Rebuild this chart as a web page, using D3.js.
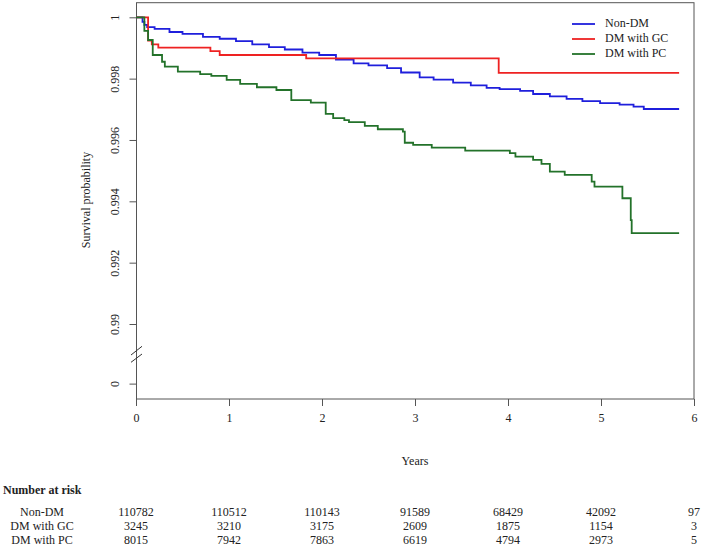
<!DOCTYPE html>
<html><head><meta charset="utf-8">
<script src="https://cdn.jsdelivr.net/npm/d3@7"></script>
<style>body{margin:0;background:#fff}svg{display:block}text{font-family:"Liberation Serif","Times New Roman",serif;fill:#222}</style>
</head><body>
<script>
const groups = ["Non-DM", "DM with GC", "DM with PC"];
const colors = ["#1f1fdc", "#ee2222", "#23722a"];
const nonDM = [[0,1],[0.07,0.99985],[0.09,0.99975],[0.12,0.99968],[0.2,0.99962],[0.36,0.99952],[0.5,0.99946],[0.72,0.99936],[0.9,0.9993],[1.075,0.99922],[1.25,0.99912],[1.43,0.99903],[1.6,0.99895],[1.79,0.99885],[1.97,0.99877],[2.15,0.99862],[2.34,0.9985],[2.5,0.99843],[2.7,0.99834],[2.85,0.9982],[3.05,0.99804],[3.2,0.99797],[3.41,0.99787],[3.6,0.99778],[3.77,0.9977],[3.91,0.99766],[4.13,0.9976],[4.27,0.9975],[4.45,0.99742],[4.63,0.99734],[4.8,0.99727],[4.99,0.9972],[5.2,0.99715],[5.35,0.99709],[5.46,0.99701],[5.84,0.99701]];
const dmGC = [[0,1],[0.13,0.99924],[0.17,0.99912],[0.24,0.99901],[0.8,0.9989],[0.9,0.99877],[1.83,0.99866],[3.9,0.99819],[5.84,0.99819]];
const dmPC = [[0,1],[0.09,0.99956],[0.13,0.99926],[0.18,0.99877],[0.28,0.99855],[0.31,0.99839],[0.45,0.99823],[0.69,0.99815],[0.81,0.99809],[0.975,0.99796],[1.12,0.99783],[1.3,0.99772],[1.51,0.99763],[1.67,0.9973],[1.88,0.99722],[2.04,0.99685],[2.12,0.99671],[2.24,0.99665],[2.29,0.99658],[2.46,0.99646],[2.6,0.99635],[2.87,0.99627],[2.89,0.99591],[2.98,0.99584],[3.18,0.99575],[3.54,0.99565],[4.02,0.99557],[4.08,0.99546],[4.27,0.99535],[4.36,0.99522],[4.45,0.99497],[4.61,0.99486],[4.9,0.99464],[4.93,0.99448],[5.23,0.9941],[5.32,0.99339],[5.33,0.99296],[5.84,0.99296]];
const series = [nonDM, dmGC, dmPC];
const xTicks = [0,1,2,3,4,5,6];
const yTicks = [1,0.998,0.996,0.994,0.992,0.99];
const yTickLabels = ["1","0.998","0.996","0.994","0.992","0.99"];
const zeroLabel = "0";
const zeroPos = 0.98804; // position of the broken-axis "0" tick on the scale
const atRisk = [
  [110782,110512,110143,91589,68429,42092,97],
  [3245,3210,3175,2609,1875,1154,3],
  [8015,7942,7863,6619,4794,2973,5]
];

const W=703,H=549;
const svg=d3.select("body").append("svg").attr("width",W).attr("height",H);
const x=d3.scaleLinear().domain([0,6]).range([136,694]);
const y=d3.scaleLinear().domain([0.99,1]).range([324,17.3]);
const boxTop=2.7,boxBottom=399;

// box
svg.append("rect").attr("x",136.5).attr("y",boxTop).attr("width",694-136.5).attr("height",boxBottom-boxTop)
  .attr("fill","none").attr("stroke","#555").attr("stroke-width",1);

// y axis
const yAxis=d3.axisLeft(y).tickValues(yTicks).tickSize(7).tickFormat((d,i)=>yTickLabels[i]);
const ya=svg.append("g").attr("transform","translate(136.5,0)").call(yAxis);
ya.select(".domain").remove();
ya.selectAll(".tick line").attr("stroke","#555");
ya.selectAll(".tick text").attr("transform","rotate(-90)").attr("x",0).attr("dy",null)
  .attr("y",-20).attr("text-anchor","middle").attr("font-size",12).attr("font-family","Liberation Serif").attr("fill","#444")
  .attr("dominant-baseline","middle");
// zero tick
const zg=svg.append("g").attr("transform",`translate(136.5,${y(zeroPos)})`);
zg.append("line").attr("x1",-7).attr("x2",0).attr("stroke","#555");
zg.append("text").attr("transform","rotate(-90)").attr("y",-20).attr("text-anchor","middle")
  .attr("dominant-baseline","middle").attr("font-size",12).attr("fill","#444").text(zeroLabel);
// break marks
[[362.3,354],[355,346.3]].forEach(([a,b])=>{
  svg.append("line").attr("x1",131).attr("y1",a).attr("x2",142).attr("y2",b).attr("stroke","#333").attr("stroke-width",1);
});

// x axis
const xAxis=d3.axisBottom(x).tickValues(xTicks).tickSize(7).tickFormat(d3.format("d"));
const xa=svg.append("g").attr("transform",`translate(0,${boxBottom})`).call(xAxis);
xa.select(".domain").remove();
xa.selectAll(".tick line").attr("stroke","#555");
xa.selectAll(".tick text").attr("y",19).attr("dy","0.35em").attr("font-size",12).attr("font-family","Liberation Serif").attr("fill","#333");

// titles
svg.append("text").attr("x",415).attr("y",462).attr("text-anchor","middle").attr("dominant-baseline","middle").attr("font-size",12).text("Years");
svg.append("text").attr("transform","translate(87,200) rotate(-90)").attr("text-anchor","middle").attr("dominant-baseline","middle").attr("font-size",12).text("Survival probability");

// curves
const line=d3.line().x(d=>x(d[0])).y(d=>y(d[1])).curve(d3.curveStepAfter);
series.forEach((s,i)=>{
  svg.append("path").attr("d",line(s)).attr("fill","none").attr("stroke",colors[i]).attr("stroke-width",1.8);
});

// legend
groups.forEach((g,i)=>{
  const ly=24+i*15;
  svg.append("line").attr("x1",572).attr("x2",595).attr("y1",ly).attr("y2",ly).attr("stroke",colors[i]).attr("stroke-width",1.8);
  svg.append("text").attr("x",605).attr("y",ly).attr("dominant-baseline","middle").attr("font-size",12).text(g);
});

// number at risk
svg.append("text").attr("x",3).attr("y",491).attr("dominant-baseline","middle").attr("font-size",12).attr("font-weight","bold").text("Number at risk");
groups.forEach((g,i)=>{
  const ry=513.5+i*13.8;
  svg.append("text").attr("x",42).attr("y",ry).attr("text-anchor","middle").attr("dominant-baseline","middle").attr("font-size",12).text(g);
  atRisk[i].forEach((v,j)=>{
    svg.append("text").attr("x",x(xTicks[j])).attr("y",ry).attr("text-anchor","middle").attr("dominant-baseline","middle").attr("font-size",12).text(v);
  });
});
</script>
</body></html>
